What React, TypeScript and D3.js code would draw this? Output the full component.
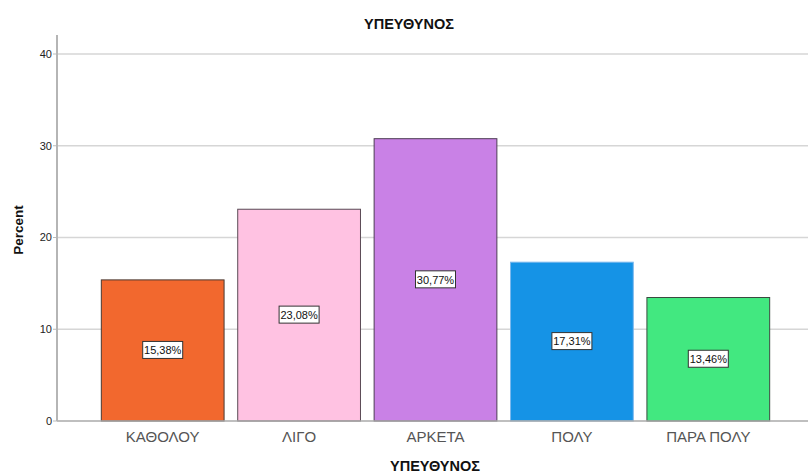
import React from "react";
import * as d3 from "d3";

const categories = ["ΚΑΘΟΛΟΥ", "ΛΙΓΟ", "ΑΡΚΕΤΑ", "ΠΟΛΥ", "ΠΑΡΑ ΠΟΛΥ"];
const percents = [15.38, 23.08, 30.77, 17.31, 13.46];
const fills = ["#F2682E", "#FFC2E2", "#C981E6", "#1593E6", "#42E880"];
const strokes = ["#4a3a33", "#5a4a55", "#4d3d55", "#7ab8ee", "#3a4a3f"];
const yTicks = [0, 10, 20, 30, 40];

const W = 808;
const H = 476;
const left = 57;
const right = 808;
const top = 35;
const bottom = 421;

export default function App() {
  const x = d3
    .scaleBand<string>()
    .domain(categories)
    .range([94.5, 776.5])
    .paddingInner(0.1)
    .paddingOuter(0.05);
  const y = d3.scaleLinear().domain([0, 40]).range([bottom, 54]);
  const font = "'Liberation Sans', Arial, sans-serif";

  return (
    <svg
      width={W}
      height={H}
      style={{ position: "absolute", left: 0, top: 0, background: "#fff" }}
      fontFamily={font}
    >
      <text x={409} y={29} textAnchor="middle" fontSize={14.5} fontWeight="bold" fill="#111">
        ΥΠΕΥΘΥΝΟΣ
      </text>
      {yTicks.map((t) => (
        <g key={t}>
          {t > 0 && (
            <line x1={left} x2={right} y1={y(t)} y2={y(t)} stroke="#d6d6d6" strokeWidth={1.5} />
          )}
          <line x1={left - 4} x2={left} y1={y(t)} y2={y(t)} stroke="#bbb" />
          <text x={left - 5} y={y(t)} dy="0.35em" textAnchor="end" fontSize={11} fill="#222">
            {t}
          </text>
        </g>
      ))}
      {categories.map((c, i) => {
        const x0 = x(c)!;
        const bw = x.bandwidth();
        const y0 = y(percents[i]);
        const cy = (y0 + y(0)) / 2;
        const label = percents[i].toFixed(2).replace(".", ",") + "%";
        return (
          <g key={c}>
            <rect
              x={x0}
              y={y0}
              width={bw}
              height={y(0) - y0}
              fill={fills[i]}
              stroke={strokes[i]}
              strokeWidth={1}
            />
            <rect
              x={x0 + bw / 2 - 20}
              y={cy - 9}
              width={40}
              height={17}
              fill="#fff"
              stroke="#333"
              strokeWidth={1}
            />
            <text
              x={x0 + bw / 2}
              y={cy}
              dy="0.35em"
              textAnchor="middle"
              fontSize={11}
              fill="#111"
            >
              {label}
            </text>
            <text
              x={x0 + bw / 2}
              y={442}
              textAnchor="middle"
              fontSize={15}
              fill="#555"
            >
              {c}
            </text>
          </g>
        );
      })}
      <line x1={left} x2={right} y1={bottom} y2={bottom} stroke="#aaa" strokeWidth={1.5} />
      <line x1={left} x2={left} y1={top} y2={bottom} stroke="#b5b5b5" strokeWidth={2} />
      <text
        transform={`translate(23,${230}) rotate(-90)`}
        textAnchor="middle"
        fontSize={13.5}
        fontWeight="bold"
        fill="#111"
      >
        Percent
      </text>
      <text x={435} y={471} textAnchor="middle" fontSize={14.5} fontWeight="bold" fill="#111">
        ΥΠΕΥΘΥΝΟΣ
      </text>
    </svg>
  );
}
